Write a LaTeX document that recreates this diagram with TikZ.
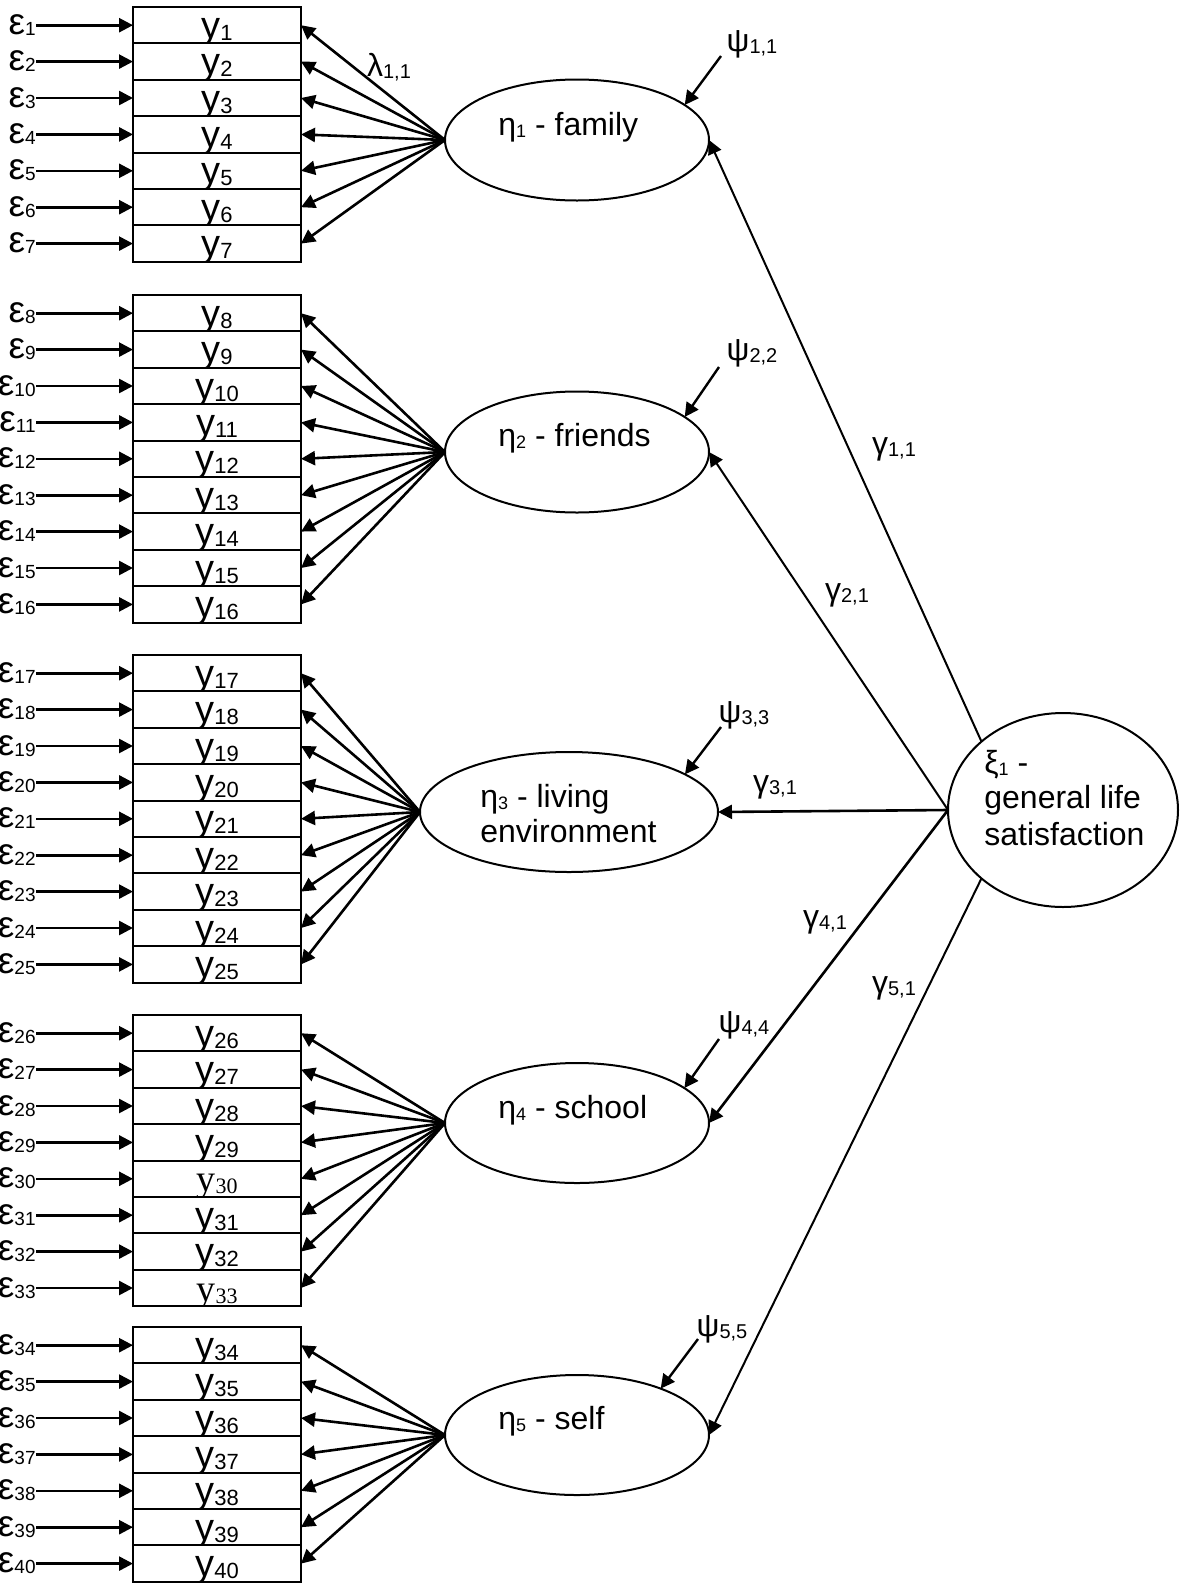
\documentclass[tikz,border=0pt]{standalone}
\usepackage{fontspec}
\setmainfont{Liberation Sans}
\newfontfamily\timesface{Liberation Serif}
\usetikzlibrary{arrows.meta,shapes.geometric}

% subscripts for the large labels, the error terms and the smaller labels
\newcommand\subA[1]{\raisebox{-1pt}{\fontsize{11}{11}\selectfont #1}}
\newcommand\subE[1]{\raisebox{-0.5pt}{\fontsize{9.5}{9.5}\selectfont #1}}
\newcommand\subB[1]{\raisebox{-1pt}{\fontsize{9}{9}\selectfont #1}}
\newcommand\subC[1]{\raisebox{-1pt}{\fontsize{10}{10}\selectfont #1}}
% indicator label; two of them are set in a serif face
\newcommand\indtext[1]{%
  \ifnum#1=30 {\timesface y\subA{#1}}%
  \else\ifnum#1=33 {\timesface y\subA{#1}}%
  \else y\subA{#1}\fi\fi}

\begin{document}
\begin{tikzpicture}[x=0.5pt,y=-0.5pt,
  indbox/.style={rectangle,draw,fill=white,line width=1pt,
    minimum width=84pt,minimum height=18.2pt,inner sep=0pt,outer sep=0pt},
  latent/.style={ellipse,draw,line width=1pt,inner sep=0pt,outer sep=0pt},
  tipped/.style={-{Triangle[length=7pt,width=7pt]}},
  errarrow/.style={tipped,line width=1.3pt},
  loadarrow/.style={tipped,line width=1.3pt},
  patharrow/.style={tipped,line width=1pt},
  boldpath/.style={tipped,line width=1.3pt},
  disturb/.style={tipped,line width=1.2pt},
  ytext/.style={font=\fontsize{19}{22}\selectfont,inner sep=0pt},
  etext/.style={font=\fontsize{18.5}{22}\selectfont,inner sep=0pt,anchor=base east},
  lvtext/.style={font=\fontsize{16}{19}\selectfont,inner sep=0pt,anchor=base west},
  coef/.style={font=\fontsize{16}{19}\selectfont,inner sep=0pt}]

\fill[white] (0,0) rectangle (1181,1585);
\useasboundingbox (0,0) rectangle (1181,1585);

% latent variables
\node[latent,minimum width=132pt,minimum height=60.5pt] (eta1) at (577,140) {};
\node[latent,minimum width=132pt,minimum height=60.5pt] (eta2) at (577,452) {};
\node[latent,minimum width=149pt,minimum height=60pt]   (eta3) at (569,812) {};
\node[latent,minimum width=132pt,minimum height=60pt]   (eta4) at (577,1123) {};
\node[latent,minimum width=132pt,minimum height=60pt]   (eta5) at (577,1435) {};
\node[latent,minimum width=115pt,minimum height=97pt]   (xi)   at (1063,810) {};

\node[lvtext] (eta1t) at (498,135) {η\subB{1} - family};
\node[lvtext] (eta2t) at (498,446) {η\subB{2} - friends};
\node[lvtext] (eta3t) at (480,807) {η\subB{3} - living};
\node[lvtext] (eta3u) at (480,842) {environment};
\node[lvtext] (eta4t) at (498,1118) {η\subB{4} - school};
\node[lvtext] (eta5t) at (498,1429) {η\subB{5} - self};
\node[lvtext] (xit)   at (984,773) {ξ\subB{1} -};
\node[lvtext] (xiu)   at (984,808) {general life};
\node[lvtext] (xiv)   at (984,845) {satisfaction};

% indicator blocks with their error terms and loadings
\foreach \g/\top/\first/\last in {1/7/1/7,2/295/8/16,3/655/17/25,4/1015/26/33,5/1327/34/40}{
  \foreach \k in {\first,...,\last}{
    \pgfmathsetmacro\yc{\top+(\k-\first+0.5)*36.4}
    \node[indbox,path picture={%
        \node[ytext,anchor=base] (yt\k) at ([yshift=2.6pt]path picture bounding box.south) {\indtext{\k}};}]
      (y\k) at (217,\yc) {};
    \node[etext] (e\k) at (36,\yc+9) {ε\subE{\k}};
    \coordinate (es\k) at (36,\yc);
    \draw[errarrow] (es\k) -- (y\k.west);
    \draw[loadarrow] (eta\g.west) -- (y\k.east);
  }
}

\node[coef] (lam) at (389,67) {λ\subC{1,1}};

% structural paths
\draw[patharrow] (xi.140) -- (eta1.east);
\draw[patharrow] (xi.west) -- (eta2.east);
\draw[boldpath]  (xi.west) -- (eta3.east);
\draw[boldpath]  (xi.west) -- (eta4.east);
\draw[patharrow] (xi.220) -- (eta5.east);

\node[coef] (g1) at (894,449) {γ\subC{1,1}};
\node[coef] (g2) at (847,595) {γ\subC{2,1}};
\node[coef] (g3) at (775,787) {γ\subC{3,1}};
\node[coef] (g4) at (825,922) {γ\subC{4,1}};
\node[coef] (g5) at (894,988) {γ\subC{5,1}};

% disturbances
\coordinate (d1) at (721,56);
\coordinate (d2) at (719,367);
\coordinate (d3) at (721,727);
\coordinate (d4) at (719,1039);
\coordinate (d5) at (698,1339);
\draw[disturb] (d1) -- (eta1.18);
\draw[disturb] (d2) -- (eta2.18);
\draw[disturb] (d3) -- (eta3.18);
\draw[disturb] (d4) -- (eta4.18);
\draw[disturb] (d5) -- (eta5.29);

\node[coef] (p1) at (752,44)   {ψ\subC{1,1}};
\node[coef] (p2) at (752,353)  {ψ\subC{2,2}};
\node[coef] (p3) at (744,715)  {ψ\subC{3,3}};
\node[coef] (p4) at (744,1025) {ψ\subC{4,4}};
\node[coef] (p5) at (722,1329) {ψ\subC{5,5}};
\end{tikzpicture}
\end{document}
